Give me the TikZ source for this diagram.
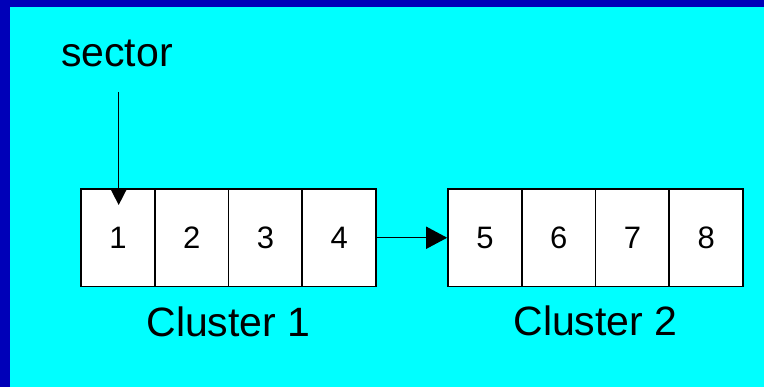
\documentclass[tikz,border=0pt]{standalone}
\usepackage{fontspec}
\setmainfont{Liberation Sans}
\usetikzlibrary{arrows.meta}
\definecolor{bordblue}{RGB}{0,0,184}
\definecolor{bgcyan}{RGB}{0,255,255}
\tikzset{
  cell/.style={draw=black, fill=white, line width=1.6pt, minimum width=73.75pt, minimum height=97.5pt, inner sep=0pt, font=\fontsize{31}{36}\selectfont},
  biglabel/.style={inner sep=0pt, anchor=base, font=\fontsize{41}{48}\selectfont},
  conn/.style={line width=1.5pt}
}
\begin{document}
\begin{tikzpicture}[x=1pt,y=-1pt]
\fill[bordblue] (0,0) rectangle (764,387);
\fill[bgcyan] (10,7) rectangle (764,387);
\useasboundingbox (0,0) rectangle (764,387);
% cluster 1
\node[cell] (c1) at (117.875,237.75) {1};
\node[cell] (c2) at (191.625,237.75) {2};
\node[cell] (c3) at (265.375,237.75) {3};
\node[cell] (c4) at (339.125,237.75) {4};
% cluster 2
\node[cell] (c5) at (484.875,237.75) {5};
\node[cell] (c6) at (558.625,237.75) {6};
\node[cell] (c7) at (632.375,237.75) {7};
\node[cell] (c8) at (706.125,237.75) {8};
% labels
\node[biglabel] (sector) at (117,67) {sector};
\node[biglabel] (cl1) at (228.5,337) {Cluster 1};
\node[biglabel] (cl2) at (595.5,336) {Cluster 2};
% connectors
\coordinate (sstart) at (118.7,92);
\coordinate (stip) at (118.7,205);
\draw[conn, -{Triangle[length=15pt,width=15pt]}] (sstart) -- (stip);
\draw[conn, -{Triangle[length=21pt,width=22pt]}] (c4.east) -- (c5.west);
\end{tikzpicture}
\end{document}
